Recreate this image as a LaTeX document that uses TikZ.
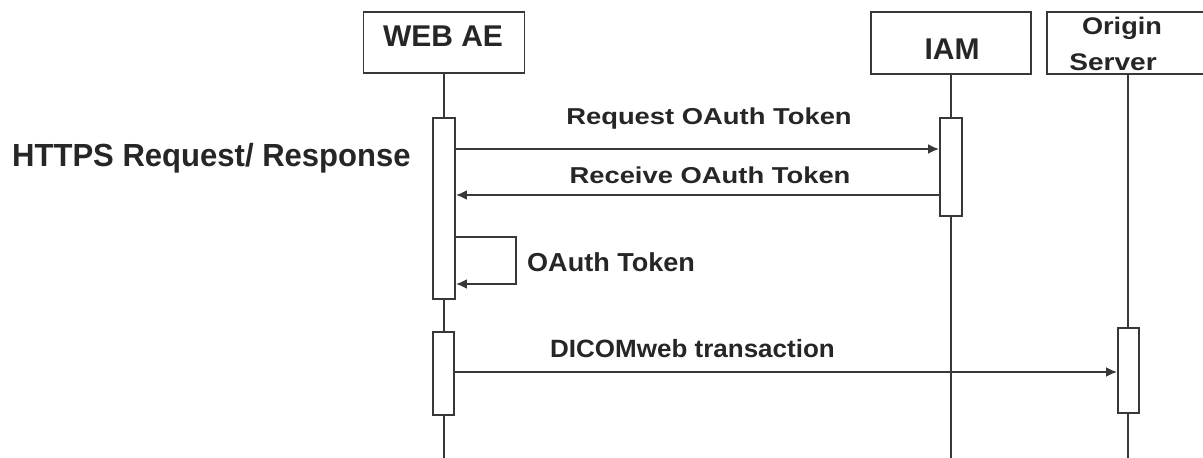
\documentclass[tikz,border=0pt]{standalone}
\usepackage{fontspec}
\setmainfont{Liberation Sans}
\usetikzlibrary{arrows.meta}
\newcommand{\fsz}[1]{\fontsize{#1bp}{#1bp}\selectfont\bfseries}
\begin{document}
\begin{tikzpicture}[x=1bp,y=-1bp,
  ln/.style={draw=black!78, line width=1.9bp},
  headbox/.style={ln, rectangle, fill=white, inner sep=0},
  actbox/.style={ln, rectangle, fill=white, inner sep=0},
  msg/.style={draw=black!78, line width=1.9bp, -{Latex[length=11bp,width=10bp]}},
  lbl/.style={inner sep=0, anchor=base, text=black!85},
]
\useasboundingbox (0,0) rectangle (1203,458);
\clip (0,0) rectangle (1203,458);

% participant heads
\node[headbox, minimum width=161bp, minimum height=61bp] (webhead) at (444,42.5) {};
\node[headbox, minimum width=160bp, minimum height=62bp] (iamhead) at (951,43) {};
\node[headbox, minimum width=163bp, minimum height=62bp] (orghead) at (1128.5,43) {};

\node[lbl] (webname) at (443,47) {\fsz{30}WEB AE};
\node[lbl] (iamname) at (952,60) {\fsz{30}IAM};
\node[lbl] (orgname1) at (1122,35) {\fsz{24}\scalebox{1.13}[1]{Origin}};
\node[lbl] (orgname2) at (1113,71) {\fsz{24}\scalebox{1.17}[1]{Server}};

% lifelines
\coordinate (webend) at (444,460);
\coordinate (iamend) at (951,460);
\coordinate (orgend) at (1128,460);
\draw[ln] (webhead.south) -- (webend);
\draw[ln] (iamhead.south) -- (iamend);
\draw[ln] (orghead.south -| orgend) -- (orgend);

% activation bars
\node[actbox, minimum width=22bp, minimum height=181bp] (wa1) at (444,208.5) {};
\node[actbox, minimum width=21bp, minimum height=83bp] (wa2) at (443.5,373.5) {};
\node[actbox, minimum width=22bp, minimum height=98bp] (iam1) at (951,167) {};
\node[actbox, minimum width=21bp, minimum height=85bp] (org1) at (1128.5,370.5) {};

% message levels
\coordinate (yreq) at (0,149);
\coordinate (yrec) at (0,195);
\coordinate (loopTop) at (516,237);
\coordinate (loopBot) at (516,284);
\coordinate (ydic) at (0,372);

% messages
\draw[msg] (wa1.east |- yreq) -- (iam1.west |- yreq);
\draw[msg] (iam1.west |- yrec) -- (wa1.east |- yrec);
\draw[msg] (wa1.east |- loopTop) -- (loopTop) -- (loopBot) -- (wa1.east |- loopBot);
\draw[msg] (wa2.east |- ydic) -- (org1.west |- ydic);

% labels
\node[lbl] (reqlbl) at (709,125) {\fsz{23}\scalebox{1.19}[1]{Request OAuth Token}};
\node[lbl] (reclbl) at (710,184) {\fsz{23}\scalebox{1.19}[1]{Receive OAuth Token}};
\node[lbl, anchor=base west] (httpslbl) at (12,167) {\fsz{32}\scalebox{0.97}[1]{HTTPS Request/ Response}};
\node[lbl, anchor=base west] (toklbl) at (527,272) {\fsz{26}\scalebox{1.04}[1]{OAuth Token}};
\node[lbl, anchor=base west] (diclbl) at (550,358) {\fsz{25}\scalebox{1.04}[1]{DICOMweb transaction}};
\end{tikzpicture}
\end{document}
